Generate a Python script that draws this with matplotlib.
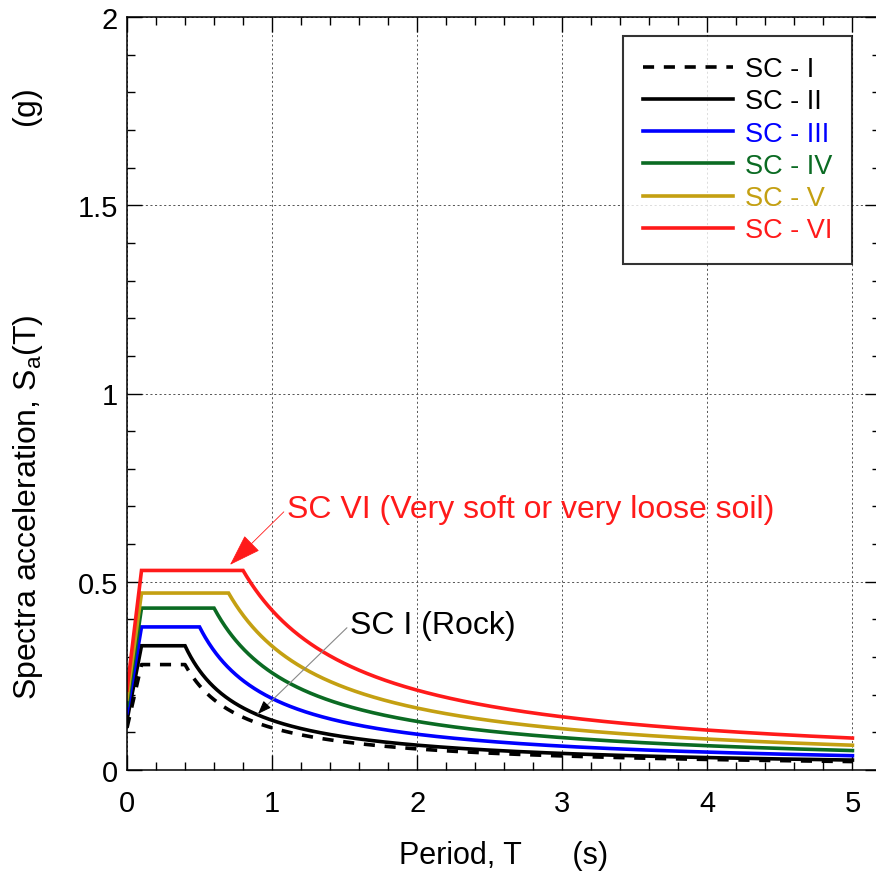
import numpy as np
import matplotlib
matplotlib.use("Agg")
import matplotlib.pyplot as plt
from matplotlib.ticker import MultipleLocator, FixedLocator, FixedFormatter

plt.rcParams["font.family"] = ["Liberation Sans", "DejaVu Sans"]
plt.rcParams["lines.scale_dashes"] = False

# Site classes with their design-spectrum parameters
site_classes = ["SC - I", "SC - II", "SC - III", "SC - IV", "SC - V", "SC - VI"]
plateau_sa = [0.28, 0.33, 0.38, 0.43, 0.47, 0.53]      # peak spectral acceleration (g)
corner_period = [0.40, 0.40, 0.50, 0.60, 0.70, 0.80]   # end of constant-acceleration branch (s)
start_period = 0.10                                     # start of plateau (s)
zero_period_ratio = 0.40                                # Sa(0) / peak
colors = ["black", "black", "#0000ff", "#0b6b23", "#c4a012", "#ff1a1a"]
styles = ["dashed", "solid", "solid", "solid", "solid", "solid"]

x_ticks = [0, 1, 2, 3, 4, 5]
x_tick_labels = ["0", "1", "2", "3", "4", "5"]
y_ticks = [0, 0.5, 1.0, 1.5, 2.0]
y_tick_labels = ["0", "0.5", "1", "1.5", "2"]

periods = np.linspace(0.0, 5.0, 1001)


def spectrum(T, sa_max, tb, tc, r0):
    """Code-type elastic spectrum: linear rise, plateau, 1/T decay."""
    sa = np.empty_like(T)
    rise = T < tb
    flat = (T >= tb) & (T <= tc)
    fall = T > tc
    sa[rise] = sa_max * (r0 + (1 - r0) * T[rise] / tb)
    sa[flat] = sa_max
    sa[fall] = sa_max * tc / T[fall]
    return sa


fig = plt.figure(figsize=(8.76, 8.78), dpi=100)
ax = fig.add_axes([127 / 876, 107 / 878, 753 / 876, 753 / 878])

lines = []
for name, sa, tc, c, ls in zip(site_classes, plateau_sa, corner_period, colors, styles):
    y = spectrum(periods, sa, start_period, tc, zero_period_ratio)
    (ln,) = ax.plot(periods, y, color=c, lw=2.6, solid_joinstyle="miter", label=name)
    if ls == "dashed":
        ln.set_dashes((8, 7))
    lines.append(ln)

ax.set_xlim(0, 5.19)
ax.set_ylim(0, 2)

ax.xaxis.set_major_locator(FixedLocator(x_ticks))
ax.xaxis.set_major_formatter(FixedFormatter(x_tick_labels))
ax.yaxis.set_major_locator(FixedLocator(y_ticks))
ax.yaxis.set_major_formatter(FixedFormatter(y_tick_labels))
ax.xaxis.set_minor_locator(MultipleLocator(0.2))
ax.yaxis.set_minor_locator(MultipleLocator(0.1))

ax.tick_params(which="both", direction="in", top=True, right=True, width=1.0)
ax.tick_params(which="major", length=11, labelsize=21)
ax.tick_params(axis="x", which="major", pad=14)
ax.tick_params(axis="y", which="major", pad=6.5)
ax.tick_params(which="minor", length=5.5)
for sp in ax.spines.values():
    sp.set_linewidth(1.1)

ax.grid(True, which="major", linestyle=(0, (1.5, 1.8)), color="#555555", linewidth=0.7)
ax.set_axisbelow(True)

ax.set_xlabel("Period, T      (s)", fontsize=22)
ax.xaxis.set_label_coords(0.5, -0.093)
ax.set_ylabel("Spectra acceleration, S$_{\\mathregular{a}}$(T)" + " " * 21 + "(g)",
              fontsize=23)
ax.yaxis.set_label_coords(-0.121, 0.5)
ax.yaxis.label.set_verticalalignment("baseline")

leg = ax.legend(
    handles=lines,
    loc="upper right",
    bbox_to_anchor=(5.0, 1.95),
    bbox_transform=ax.transData,
    fontsize=19.5,
    frameon=True,
    fancybox=False,
    edgecolor="black",
    handlelength=3.3,
    handletextpad=0.45,
    labelspacing=0.23,
    borderpad=0.75,
    borderaxespad=0,
)
leg.get_frame().set_linewidth(1.5)
for txt, c in zip(leg.get_texts(), colors):
    txt.set_color(c)

# Callouts
ax.annotate(
    "SC VI (Very soft or very loose soil)",
    xy=(0.71, 0.545), xytext=(1.10, 0.693),
    color="#ff1a1a", fontsize=23, va="center", ha="left",
    arrowprops=dict(arrowstyle="-|>,head_length=0.9,head_width=0.3",
                    color="#ff1a1a", lw=0.6, shrinkA=0, shrinkB=0,
                    relpos=(0.0, 0.5)),
)
ax.annotate(
    "SC I (Rock)",
    xy=(0.903, 0.149), xytext=(1.535, 0.385),
    color="black", fontsize=23, va="center", ha="left",
    arrowprops=dict(arrowstyle="-", color="#888888", lw=0.8,
                    shrinkA=0, shrinkB=0, relpos=(0.0, 0.5)),
)
ax.annotate(
    "", xy=(0.903, 0.149), xytext=(0.96, 0.172),
    arrowprops=dict(arrowstyle="-|>,head_length=0.8,head_width=0.3",
                    color="black", lw=0.8, shrinkA=0, shrinkB=0),
)

fig.savefig("out.png", dpi=100)
